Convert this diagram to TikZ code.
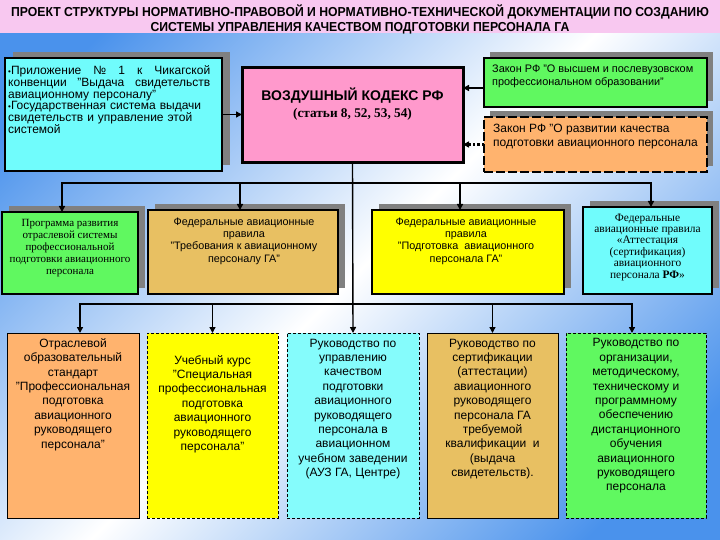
\documentclass[tikz,border=0pt]{standalone}
\usepackage{graphicx}
\usepackage{fontspec}
\setmainfont{Liberation Sans}
\newfontfamily\serifrm{Liberation Serif}
\usetikzlibrary{arrows.meta}
\definecolor{bgblue}{HTML}{4A92EC}
\definecolor{titlepink}{HTML}{F8C8F0}
\definecolor{cyanbox}{HTML}{70FCFC}
\definecolor{pinkbox}{HTML}{FF99CC}
\definecolor{greenbox}{HTML}{60F860}
\definecolor{orangebox}{HTML}{FFB36E}
\definecolor{tanbox}{HTML}{E8C062}
\definecolor{yellowbox}{HTML}{FFFF00}
\definecolor{shadowgray}{HTML}{808080}
\pgfdeclarehorizontalshading{bgsh}{100bp}{color(0bp)=(bgblue); color(22bp)=(bgblue); color(50bp)=(white); color(78bp)=(bgblue); color(100bp)=(bgblue)}
\begin{document}
\begin{tikzpicture}[x=1pt,y=-1pt,
  box/.style={rectangle, inner sep=0pt, outer sep=0pt, draw=black},
  shadowed/.style={preaction={fill=shadowgray, draw=none, transform canvas={shift={(#1)}}}},
  shadowed/.default={7pt,6pt},
  txt/.style={inner sep=0pt, align=center},
  conn/.style={line width=1.4pt, draw=black},
  arr/.style={conn, -{Triangle[length=6pt,width=6pt]}},
  dotarr/.style={line width=2.2pt, draw=black, dash pattern=on 2.2pt off 2.2pt, -{Triangle[length=6pt,width=6pt]}},
  bigtxt/.style={txt, font=\fontsize{12}{14.4}\selectfont},
  midtxt/.style={txt, font=\fontsize{10.8}{12.3}\selectfont},
  sertxt/.style={txt, font=\serifrm\fontsize{11}{11.8}\selectfont},
  thindash/.style={dash pattern=on 3pt off 2pt}
]
\useasboundingbox (0,0) rectangle (720,540);
\shade[shading=bgsh, shading angle=-45] (0,0) rectangle (720,540);
\fill[titlepink] (0,0) rectangle (720,33);
\node[txt, font=\bfseries\fontsize{13}{15}\selectfont] (title) at (360,19.5)
  {\scalebox{0.94}[1]{ПРОЕКТ СТРУКТУРЫ НОРМАТИВНО-ПРАВОВОЙ И НОРМАТИВНО-ТЕХНИЧЕСКОЙ ДОКУМЕНТАЦИИ ПО СОЗДАНИЮ}\\
   \scalebox{0.94}[1]{СИСТЕМЫ УПРАВЛЕНИЯ КАЧЕСТВОМ ПОДГОТОВКИ ПЕРСОНАЛА ГА}};

% top row
\node[box, shadowed={8pt,6pt}, fill=cyanbox, line width=2.5pt, minimum width=217pt, minimum height=113pt] (tl) at (113.5,114.5) {};
\node[txt, anchor=west, text width=202pt, align=left, font=\fontsize{12}{11.7}\selectfont] (tltext) at (8,99.5)
  {\leavevmode\hbox to 202pt{{\fontsize{8}{8}\selectfont•}Приложение\hfill№\hfill1\hfill к\hfill Чикагской}\\
   \leavevmode\hbox to 202pt{конвенции\hfill"Выдача\hfill свидетельств}\\
   авиационному персоналу"\\
   {\fontsize{8}{8}\selectfont•}Государственная система выдачи\\
   свидетельств и управление этой\\
   системой};
\node[box, fill=pinkbox, line width=3pt, minimum width=221pt, minimum height=95pt] (pink) at (352.5,115.5) {};
\node[txt, font=\fontsize{14}{17}\selectfont] (pinktext) at (352.5,104)
  {{\bfseries ВОЗДУШНЫЙ КОДЕКС РФ}\\{\serifrm\bfseries\fontsize{13.3}{17}\selectfont (статьи 8, 52, 53, 54)}};
\node[box, shadowed={6pt,6pt}, fill=greenbox, line width=2.5pt, minimum width=223pt, minimum height=49pt] (gtr) at (595.5,82.5) {};
\node[txt, anchor=west, align=left, font=\fontsize{10.9}{13}\selectfont] (gtrtext) at (492,76.5)
  {Закон РФ "О высшем и послевузовском\\профессиональном образовании"};
\node[box, shadowed={6pt,6pt}, preaction={draw=white, line width=2.5pt}, fill=orangebox, line width=2.5pt, dash pattern=on 9pt off 3pt, minimum width=223pt, minimum height=55pt] (otr) at (595.5,144.5) {};
\node[txt, anchor=west, align=left, font=\fontsize{12}{14}\selectfont] (otrtext) at (493,137)
  {Закон РФ "О развитии качества\\подготовки авиационного персонала};

% second row
\node[box, shadowed, fill=greenbox, line width=1.5pt, minimum width=136pt, minimum height=82pt] (r2a) at (70,253) {};
\node[sertxt] (r2atext) at (70,248) {Программа развития\\отраслевой системы\\профессиональной\\подготовки авиационного\\персонала};
\node[box, shadowed, fill=tanbox, line width=1.5pt, minimum width=190pt, minimum height=84pt] (r2b) at (243,252) {};
\node[midtxt] (r2btext) at (244,241) {Федеральные авиационные\\правила\\"Требования к авиационному\\персоналу ГА"};
\node[box, shadowed, fill=yellowbox, line width=1.5pt, minimum width=192pt, minimum height=84pt] (r2c) at (468,252) {};
\node[midtxt] (r2ctext) at (466,241) {Федеральные авиационные\\правила\\"Подготовка\ \ авиационного\\персонала ГА"};
\node[box, shadowed, fill=cyanbox, line width=1.5pt, minimum width=129pt, minimum height=87pt] (r2d) at (647.5,250.5) {};
\node[sertxt, font=\serifrm\fontsize{11.4}{11.4}\selectfont] (r2dtext) at (647.5,247) {Федеральные\\авиационные правила\\«Аттестация\\(сертификация)\\авиационного\\персонала \textbf{РФ}»};

% bottom row
\node[box, fill=orangebox, line width=1pt, minimum width=132pt, minimum height=185pt] (b1) at (73,425.5) {};
\node[bigtxt] (b1text) at (73,394.5) {Отраслевой\\образовательный\\стандарт\\"Профессиональная\\подготовка\\авиационного\\руководящего\\персонала"};
\node[box, thindash, fill=yellowbox, line width=0.9pt, minimum width=131pt, minimum height=185pt] (b2) at (212.5,425.5) {};
\node[bigtxt] (b2text) at (212.5,404) {Учебный курс\\"Специальная\\профессиональная\\подготовка\\авиационного\\руководящего\\персонала"};
\node[box, thindash, fill=cyanbox!85!white, line width=0.9pt, minimum width=132pt, minimum height=185pt] (b3) at (353,425.5) {};
\node[bigtxt] (b3text) at (353,409) {Руководство по\\управлению\\качеством\\подготовки\\авиационного\\руководящего\\персонала в\\авиационном\\учебном заведении\\(АУЗ ГА, Центре)};
\node[box, fill=tanbox, line width=1pt, minimum width=131pt, minimum height=185pt] (b4) at (492.5,425.5) {};
\node[bigtxt] (b4text) at (492.5,409) {Руководство по\\сертификации\\(аттестации)\\авиационного\\руководящего\\персонала ГА\\требуемой\\квалификации\ \ и\\(выдача\\свидетельств).};
\node[box, thindash, fill=greenbox, line width=0.9pt, minimum width=140pt, minimum height=185pt] (b5) at (636,425.5) {};
\node[bigtxt] (b5text) at (636,416) {Руководство по\\организации,\\методическому,\\техническому и\\программному\\обеспечению\\дистанционного\\обучения\\авиационного\\руководящего\\персонала};

% connectors
\draw[arr] (tl.east) -- (tl.east -| pink.west);
\draw[arr] ([yshift=-5.5pt]gtr.west) -- ([yshift=-5.5pt]gtr.west -| pink.east);
\draw[dotarr] (otr.west) -- (otr.west -| pink.east);
\coordinate (j1) at (pink.south |- 0,183);
\coordinate (j2) at (pink.south |- 0,304);
\draw[arr] (pink.south) -- (b3.north);
\draw[arr] (j1) -| ([xshift=-8pt]r2a.north);
\draw[arr] (j1) -| ([xshift=-3pt]r2b.north);
\draw[arr] (j1) -| ([xshift=-8pt]r2c.north);
\draw[arr] (j1) -| ([xshift=3.5pt]r2d.north);
\draw[arr] (j2) -| ([xshift=7pt]b1.north);
\draw[arr] (j2) -| (b2.north);
\draw[arr] (j2) -| (b4.north);
\draw[arr] (j2) -| ([xshift=-4pt]b5.north);
\end{tikzpicture}
\end{document}
